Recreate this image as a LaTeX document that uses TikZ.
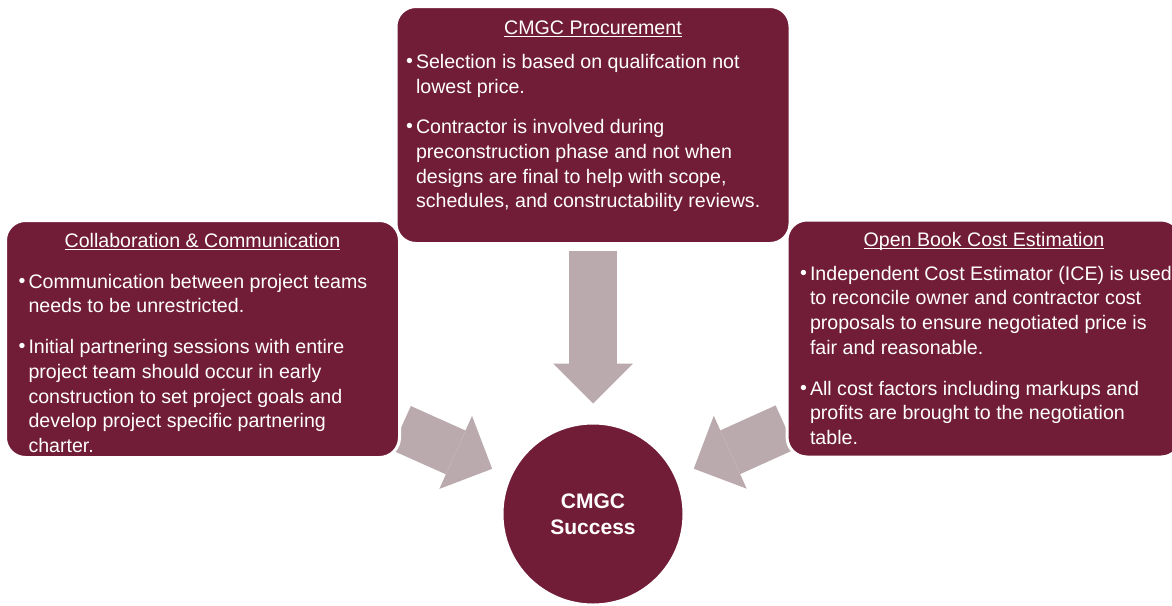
\documentclass[tikz,border=0pt]{standalone}
\usepackage{fontspec}
\setmainfont{Liberation Sans}
\usetikzlibrary{arrows.meta, backgrounds}

\definecolor{maroon}{RGB}{114,29,56}
\definecolor{arrowgray}{RGB}{186,170,173}

\newcommand{\paneltitle}[1]{\leavevmode\setbox0\hbox{#1}\rlap{\rule[-2.6pt]{\wd0}{1.3pt}}\box0}
\newcommand{\pbullet}{\makebox[10pt][l]{\raisebox{1pt}{\textbullet}}}
\newcommand{\pitem}[1]{\par\hangindent=10pt\hangafter=1\noindent\pbullet#1\par}

\begin{document}
\begin{tikzpicture}[x=1pt, y=-1pt,
    panel/.style={rectangle, rounded corners=20pt, fill=maroon, draw=white, line width=3pt,
      text=white, inner sep=0pt, minimum width=394pt, minimum height=237pt,
      font=\fontsize{19.6}{24.7}\selectfont},
    hub/.style={circle, fill=maroon, draw=white, line width=3pt, text=white,
      minimum size=182pt, inner sep=0pt, align=center,
      font=\bfseries\fontsize{21}{26}\selectfont},
    bigarrow/.style={draw=arrowgray, line width=48pt,
      -{Triangle[length=40pt, width=80pt, line width=0pt]}, shorten >=18pt}
  ]
  \useasboundingbox (0,0) rectangle (1172,605);

  \node[hub] (hub) at (593,514) {CMGC\\Success};

  \node[panel] (collab) at (202.5,339) {%
    \begin{minipage}[c][208pt][c]{394pt}\setlength{\parskip}{16pt}\raggedright
      \vspace*{8pt}
      {\centering\paneltitle{Collaboration \& Communication}\par}
      \leftskip=13pt
      \pitem{Communication between project teams\newline needs to be unrestricted.}
      \pitem{Initial partnering sessions with entire\newline project team should occur in early\newline
        construction to set project goals and\newline develop project specific partnering\newline charter.}
    \end{minipage}};

  \node[panel] (cost) at (984,338.5) {%
    \begin{minipage}[c][208pt][c]{394pt}\setlength{\parskip}{16pt}\raggedright
      {\centering\paneltitle{Open Book Cost Estimation}\par}\vspace{-7pt}
      \leftskip=13pt
      \pitem{Independent Cost Estimator (ICE) is used\newline to reconcile owner and contractor cost\newline
        proposals to ensure negotiated price is\newline fair and reasonable.}
      \pitem{All cost factors including markups and\newline profits are brought to the negotiation\newline table.}
    \end{minipage}};

  \node[panel] (procure) at (593,125) {%
    \begin{minipage}[c][208pt][t]{394pt}\setlength{\parskip}{16pt}\raggedright
      {\centering\paneltitle{CMGC Procurement}\par}\vspace{-7pt}
      \leftskip=10pt
      \pitem{Selection is based on qualifcation not\newline lowest price.}
      \pitem{Contractor is involved during\newline preconstruction phase and not when\newline
        designs are final to help with scope,\newline schedules, and constructability reviews.}
    \end{minipage}};

  \begin{scope}[on background layer]
    \draw[bigarrow, shorten <=5.5pt] (procure) -- (hub);
    \draw[bigarrow] (collab) -- (hub);
    \draw[bigarrow] (cost) -- (hub);
  \end{scope}
\end{tikzpicture}
\end{document}
